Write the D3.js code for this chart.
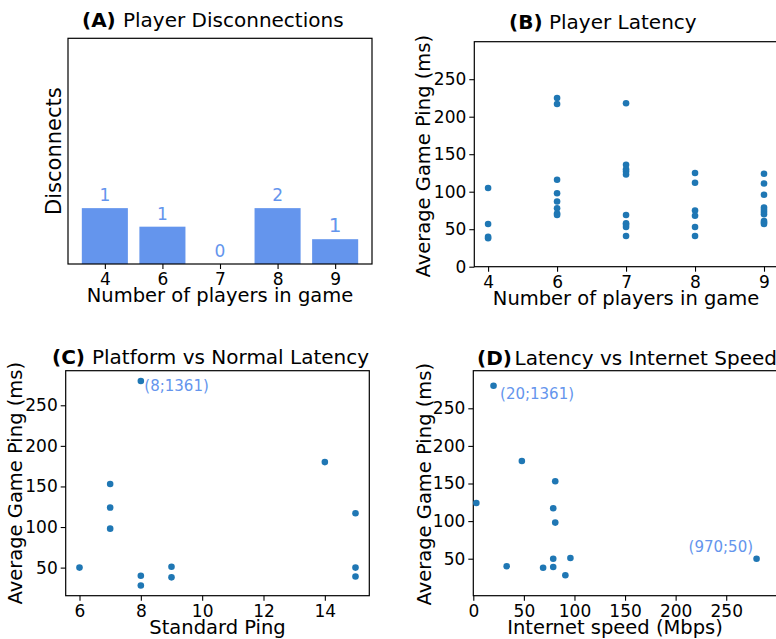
<!DOCTYPE html>
<html><head><meta charset="utf-8">
<script src="https://cdn.jsdelivr.net/npm/d3@7"></script>
<style>
body{margin:0;background:#fff;}
svg{display:block;font-family:"DejaVu Sans",sans-serif;}
</style></head>
<body><svg id="chart" width="776" height="639"></svg>
<script>
// ---------- data ----------
const playerCounts = ["4","6","7","8","9"];
const disconnects = [1, 1, 0, 2, 1];
const disconnectRate = [0.25, 0.167, 0, 0.25, 0.111];

const latency4 = [105, 57, 40, 38];
const latency6 = [225, 217, 116, 98, 87, 78, 71, 69];
const latency7 = [218, 136, 130, 127, 123, 69, 58, 56, 53, 41];
const latency8 = [125, 112, 75, 68, 53, 41];
const latency9 = [124, 111, 96, 79, 76, 73, 70, 61, 59, 57];

const standardPing = [8, 14, 7, 7, 7, 15, 6, 15, 15, 8, 8, 9, 9];
const gamePingC   = [280, 180, 153, 124, 98, 117, 50, 50, 39, 40, 28, 51, 38];

const internetSpeed = [20, 48, 81, 3, 79, 81, 79, 96, 33, 69, 79, 91, 280];
const gamePingD     = [280, 180, 153, 124, 117, 98, 50, 51, 40, 38, 39, 28, 50];

const pingTicks = [0, 50, 100, 150, 200, 250];
const stdTicks = [6, 8, 10, 12, 14];
const speedTicks = [0, 50, 100, 150, 200, 250];

// ---------- setup ----------
const svg = d3.select("#chart");
const BAR = "#6495ED", DOT = "#1f77b4", INK = "#000";
const TICK_FS = 17, LABEL_FS = 19.5, TITLE_FS = 20;

function frame(x0, x1, y0, y1) {
  svg.append("rect").attr("x", x0).attr("y", y0).attr("width", x1 - x0).attr("height", y1 - y0)
    .attr("fill", "none").attr("stroke", INK).attr("stroke-width", 1.2);
}
function xAxis(scale, y, ticks, fmt) {
  const g = svg.append("g").attr("transform", `translate(0,${y})`)
    .call(d3.axisBottom(scale).tickValues(ticks).tickSize(5).tickPadding(4).tickFormat(fmt || d3.format("d")));
  g.select(".domain").remove();
  g.selectAll("line").attr("stroke", INK).attr("stroke-width", 1.1);
  g.selectAll("text").attr("font-size", TICK_FS).attr("fill", INK).attr("font-family", "DejaVu Sans");
}
function yAxis(scale, x, ticks) {
  const g = svg.append("g").attr("transform", `translate(${x},0)`)
    .call(d3.axisLeft(scale).tickValues(ticks).tickSize(5).tickPadding(3).tickFormat(d3.format("d")));
  g.select(".domain").remove();
  g.selectAll("line").attr("stroke", INK).attr("stroke-width", 1.1);
  g.selectAll("text").attr("font-size", TICK_FS).attr("fill", INK).attr("font-family", "DejaVu Sans");
}
function title(x, y, bold, rest, restX) {
  const t = svg.append("text").attr("y", y).attr("font-size", TITLE_FS).attr("fill", INK);
  t.append("tspan").attr("x", x).attr("font-weight", "bold").text(bold);
  t.append("tspan").attr("x", restX).text(rest);
}
function yLabel(x, cy, txt, fs) {
  svg.append("text").attr("transform", `translate(${x},${cy}) rotate(-90)`)
    .attr("text-anchor", "middle").attr("font-size", fs || LABEL_FS).attr("fill", INK).text(txt);
}
function xLabel(cx, y, txt) {
  svg.append("text").attr("x", cx).attr("y", y).attr("text-anchor", "middle")
    .attr("font-size", LABEL_FS).attr("fill", INK).text(txt);
}

// ---------- (A) ----------
{
  const L = 68, R = 372, T = 38.3, B = 264;
  const x = d3.scaleLinear().domain([-0.64, 4.64]).range([L, R]);
  const y = d3.scaleLinear().domain([0, 1.01]).range([B, T]);
  const bw = x(0.4) - x(-0.4);
  const labelFs = [17, 17, 17, 17, 20];
  svg.append("g").selectAll("rect").data(disconnectRate).join("rect")
    .attr("x", (d, i) => x(i) - bw / 2).attr("width", bw)
    .attr("y", d => y(d)).attr("height", d => B - y(d)).attr("fill", BAR);
  svg.append("g").selectAll("text").data(disconnects).join("text")
    .attr("x", (d, i) => x(i)).attr("y", (d, i) => y(disconnectRate[i]) - 7)
    .attr("text-anchor", "middle").attr("font-size", (d, i) => labelFs[i])
    .attr("fill", BAR).text(d => d);
  frame(L, R, T, B);
  xAxis(x, B, d3.range(playerCounts.length), i => playerCounts[i]);
  yLabel(61, (T + B) / 2, "Disconnects", 21);
  xLabel((L + R) / 2, 302, "Number of players in game");
  title(82, 27, "(A)", "Player Disconnections", 123);
}

// ---------- (B) ----------
{
  const L = 474.3, R = 777.8, T = 41.7, B = 266.7;
  const x = d3.scaleLinear().domain([-0.2, 4.2]).range([L, R]);
  const y = d3.scaleLinear().domain([0, 300]).range([B, T]);
  const groups = [latency4, latency6, latency7, latency8, latency9];
  const pts = groups.flatMap((arr, i) => arr.map(v => ({ i, v })));
  frame(L, R, T, B);
  svg.append("g").selectAll("circle").data(pts).join("circle")
    .attr("cx", d => x(d.i)).attr("cy", d => y(d.v)).attr("r", 3.3).attr("fill", DOT);
  xAxis(x, B, d3.range(playerCounts.length), i => playerCounts[i]);
  yAxis(y, L, pingTicks);
  yLabel(430, (T + B) / 2 + 2, "Average Game Ping (ms)");
  xLabel((L + R) / 2, 304.5, "Number of players in game");
  title(509, 28.5, "(B)", "Player Latency", 549);
}

// ---------- (C) ----------
{
  const L = 65.7, R = 369.3, T = 370.7, B = 595.7;
  const x = d3.scaleLinear().domain([5.55, 15.45]).range([L, R]);
  const y = d3.scaleLinear().domain([15.4, 292.6]).range([B, T]);
  frame(L, R, T, B);
  svg.append("g").selectAll("circle").data(standardPing).join("circle")
    .attr("cx", d => x(d)).attr("cy", (d, i) => y(gamePingC[i])).attr("r", 3.3).attr("fill", DOT);
  svg.append("text").attr("x", x(8) + 3.5).attr("y", y(280) + 10.5)
    .attr("font-size", 15).attr("fill", BAR).text("(8;1361)");
  xAxis(x, B, stdTicks);
  yAxis(y, L, pingTicks.slice(1));
  yLabel(21.5, (T + B) / 2, "Average Game Ping (ms)");
  xLabel((L + R) / 2, 633.5, "Standard Ping");
  title(52, 363.5, "(C)", "Platform vs Normal Latency", 92);
}

// ---------- (D) ----------
{
  const L = 473.3, R = 776.8, T = 370.7, B = 595.7;
  const x = d3.scaleLinear().domain([0, 300]).range([L, R]);
  const y = d3.scaleLinear().domain([0.8, 300]).range([B, T]);
  frame(L, R, T, B);
  svg.append("g").selectAll("circle").data(internetSpeed).join("circle")
    .attr("cx", d => x(d)).attr("cy", (d, i) => y(gamePingD[i])).attr("r", 3.3).attr("fill", DOT);
  svg.append("text").attr("x", x(20) + 6.5).attr("y", y(280) + 13.5)
    .attr("font-size", 15).attr("fill", BAR).text("(20;1361)");
  svg.append("text").attr("x", x(280) - 3.5).attr("y", y(50) - 6.5).attr("text-anchor", "end")
    .attr("font-size", 15).attr("fill", BAR).text("(970;50)");
  xAxis(x, B, speedTicks);
  yAxis(y, L, pingTicks.slice(1));
  yLabel(431, (T + B) / 2 + 1, "Average Game Ping (ms)");
  xLabel((L + R) / 2 - 10, 633.5, "Internet speed (Mbps)");
  title(477, 364.5, "(D)", "Latency vs Internet Speed", 514.5);
}
</script></body></html>
